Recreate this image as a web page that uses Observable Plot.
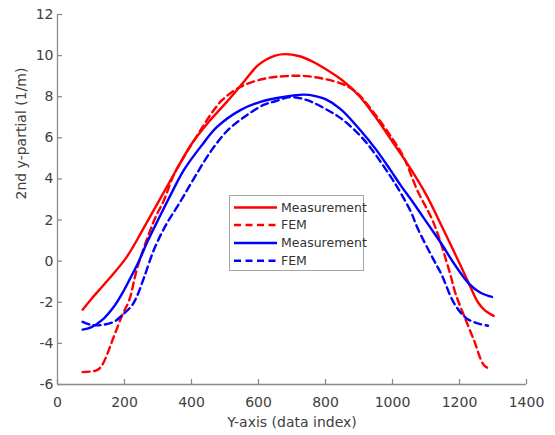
<!DOCTYPE html>
<html>
<head>
<meta charset="utf-8">
<script src="https://cdn.jsdelivr.net/npm/d3@7"></script>
<script src="https://cdn.jsdelivr.net/npm/@observablehq/plot@0.6"></script>
<style>
  body { margin: 0; background: #fff; }
  #wrap { position: relative; width: 555px; height: 435px; }
  #legend { position: absolute; left: 229px; top: 195px; }
</style>
</head>
<body>
<div id="wrap"><div id="legend"></div></div>
<script>
// ---- data ----
const xTicks = [0, 200, 400, 600, 800, 1000, 1200, 1400];
const yTicks = [-6, -4, -2, 0, 2, 4, 6, 8, 10, 12];
const xLabel = "Y-axis (data index)";
const yLabel = "2nd y-partial (1/m)";
const legendLabels = ["Measurement", "FEM", "Measurement", "FEM"];

const redMeasurement = [
  [75, -2.36], [100, -1.86], [150, -0.93], [200, 0.05], [225, 0.68], [250, 1.4],
  [300, 2.85], [350, 4.3], [400, 5.7], [450, 6.75], [500, 7.65], [550, 8.6],
  [600, 9.55], [650, 10.0], [680, 10.07], [720, 9.98], [760, 9.72], [800, 9.35],
  [850, 8.8], [900, 8.05], [950, 7.0], [1000, 5.8], [1050, 4.6], [1100, 3.25],
  [1150, 1.6], [1200, -0.1], [1228, -1.09], [1255, -2.0], [1275, -2.38], [1302, -2.66]
];
const redFEM = [
  [75, -5.4], [118, -5.3], [133, -5.06], [168, -3.68], [193, -2.63], [214, -1.9],
  [239, -0.28], [289, 2.0], [318, 2.97], [347, 4.2], [377, 5.06], [427, 6.37],
  [460, 7.2], [491, 7.83], [546, 8.48], [621, 8.89], [680, 9.0], [745, 9.0],
  [845, 8.65], [890, 8.24], [950, 7.1], [1000, 5.95], [1033, 5.07], [1074, 3.45],
  [1123, 1.85], [1170, -0.5], [1188, -1.57], [1213, -2.63], [1243, -3.84],
  [1273, -5.06], [1293, -5.26]
];
const blueMeasurement = [
  [75, -3.33], [100, -3.22], [138, -2.79], [168, -2.22], [193, -1.57], [215, -0.9],
  [240, -0.1], [270, 1.0], [300, 2.0], [340, 3.3], [377, 4.43], [427, 5.56],
  [477, 6.54], [546, 7.35], [606, 7.75], [660, 7.95], [735, 8.1], [770, 8.03],
  [800, 7.88], [845, 7.4], [904, 6.37], [950, 5.45], [994, 4.43], [1024, 3.7],
  [1063, 2.82], [1108, 1.75], [1150, 0.75], [1183, -0.1], [1228, -1.09],
  [1263, -1.54], [1297, -1.74]
];
const blueFEM = [
  [75, -2.95], [100, -3.1], [130, -3.11], [168, -2.95], [193, -2.63], [223, -2.14],
  [240, -1.6], [259, -0.76], [289, 0.6], [325, 1.8], [365, 2.85], [410, 4.1],
  [460, 5.4], [510, 6.4], [565, 7.1], [615, 7.6], [650, 7.78], [695, 7.98],
  [745, 7.83], [815, 7.27], [850, 6.9], [915, 5.9], [995, 4.1], [1025, 3.3],
  [1055, 2.4], [1075, 1.6], [1125, 0.0], [1145, -0.6], [1185, -2.08], [1220, -2.77],
  [1255, -3.03], [1285, -3.14]
];

// ---- styles ----
const RED = "#ff0000", BLUE = "#0000ff";
const AXIS = "#8c8c8c", TEXT = "#404040";
const FONT = "DejaVu Sans, Verdana, sans-serif";
const W = 555, H = 435, ML = 57, MR = 29, MT = 14, MB = 51;
const plotW = W - ML - MR, plotH = H - MT - MB;
const fmt = d => String(d);

const series = [
  { data: redMeasurement, color: RED, dash: null, label: legendLabels[0] },
  { data: redFEM, color: RED, dash: "7,4.5", label: legendLabels[1] },
  { data: blueMeasurement, color: BLUE, dash: null, label: legendLabels[2] },
  { data: blueFEM, color: BLUE, dash: "7,4.5", label: legendLabels[3] }
];

const lineMarks = series.map(s => Plot.line(s.data, {
  x: d => d[0], y: d => d[1], stroke: s.color, strokeWidth: 2.4,
  strokeDasharray: s.dash ?? undefined, curve: "catmull-rom"
}));

const chart = Plot.plot({
  width: W, height: H,
  marginLeft: ML, marginRight: MR, marginTop: MT, marginBottom: MB,
  style: { fontFamily: FONT, fontSize: "14px", color: TEXT, background: "white", overflow: "visible" },
  x: { domain: [0, 1400] },
  y: { domain: [-6, 12] },
  marks: [
    Plot.axisX(xTicks, { tickSize: 0, tickPadding: 13, tickFormat: fmt, label: null, fill: TEXT, fontSize: 14 }),
    Plot.axisY(yTicks, { tickSize: 0, tickPadding: 4, tickFormat: fmt, label: null, fill: TEXT, fontSize: 14 }),
    Plot.ruleX([0], { stroke: AXIS, strokeWidth: 1.3 }),
    Plot.ruleY([-6], { stroke: AXIS, strokeWidth: 1.3 }),
    Plot.tickX(xTicks, { x: d => d, insetTop: plotH - 5, stroke: AXIS, strokeWidth: 1.3 }),
    Plot.tickY(yTicks, { y: d => d, insetRight: plotW - 5, stroke: AXIS, strokeWidth: 1.3 }),
    ...lineMarks,
    Plot.text([xLabel], { frameAnchor: "bottom", dy: 38, lineAnchor: "middle", fill: TEXT, fontSize: 14 }),
    Plot.text([yLabel], { frameAnchor: "left", dx: -36, rotate: -90, lineAnchor: "middle", fill: TEXT, fontSize: 14 })
  ]
});
document.getElementById("wrap").prepend(chart);

// ---- legend ----
const lw = 135, lh = 76;
const leg = d3.select("#legend").append("svg").attr("width", lw).attr("height", lh)
  .style("overflow", "visible");
leg.append("rect").attr("x", 0.5).attr("y", 0.5).attr("width", lw - 1).attr("height", lh - 1)
  .attr("fill", "white").attr("stroke", "#a6a6a6").attr("stroke-width", 1);
const rowY = [12.5, 30, 48, 65.7];
series.forEach((s, i) => {
  const g = leg.append("g").attr("transform", `translate(0,${rowY[i]})`);
  g.append("line").attr("x1", 5).attr("x2", 48).attr("y1", 0).attr("y2", 0)
    .attr("stroke", s.color).attr("stroke-width", 2.4)
    .attr("stroke-dasharray", s.dash ?? null);
  g.append("text").attr("x", 52).attr("y", 0).attr("dy", "0.35em")
    .attr("font-family", FONT).attr("font-size", 12.5).attr("fill", "#333")
    .text(s.label);
});
</script>
</body>
</html>
